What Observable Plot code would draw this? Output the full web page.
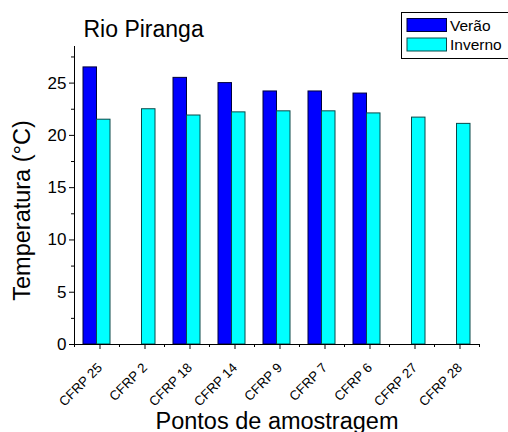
<!DOCTYPE html>
<html>
<head>
<meta charset="utf-8">
<script src="https://cdn.jsdelivr.net/npm/d3@7"></script>
<script src="https://cdn.jsdelivr.net/npm/@observablehq/plot@0.6"></script>
<style>
  html, body { margin: 0; background: #fff; overflow: hidden; }
  #chart { width: 508px; height: 432px; }
</style>
</head>
<body>
<div id="chart"></div>
<script>
// Temperatura da água por ponto de amostragem, Rio Piranga
const pontos = ["CFRP 25", "CFRP 2", "CFRP 18", "CFRP 14", "CFRP 9", "CFRP 7", "CFRP 6", "CFRP 27", "CFRP 28"];
const verao = [26.5, null, 25.5, 25.0, 24.2, 24.2, 24.0, null, null];
const inverno = [21.5, 22.5, 21.9, 22.2, 22.3, 22.3, 22.1, 21.7, 21.1];
const series = ["Verão", "Inverno"];
const cores = ["#0000ff", "#00ffff"];
const bordas = ["#00003c", "#0b4848"];
const yMajor = [0, 5, 10, 15, 20, 25];
const yMinor = [2.5, 7.5, 12.5, 17.5, 22.5, 27.5];
const yMax = 28.5;
const titulo = "Rio Piranga";
const tituloX = "Pontos de amostragem";
const tituloY = "Temperatura (°C)";

const W = 508, H = 432;
const mL = 74, mR = 29, mT = 46, mB = 88;
const step = (W - mL - mR) / pontos.length;   // largura de cada categoria
const barW = 13.5;
const inset = (step - barW) / 2;

const toRows = (vals) => pontos.map((p, i) => ({ponto: p, valor: vals[i]})).filter(d => d.valor != null);
const dadosVerao = toRows(verao);
const dadosInverno = toRows(inverno);

const font = "'Liberation Sans', Arial, sans-serif";

const plot = Plot.plot({
  width: W,
  height: H,
  marginLeft: mL,
  marginRight: mR,
  marginTop: mT,
  marginBottom: mB,
  style: {fontFamily: font, color: "#000", background: "#fff"},
  x: {type: "band", domain: pontos, padding: 0},
  y: {domain: [0, yMax]},
  marks: [
    Plot.barY(dadosVerao, {
      x: "ponto", y: "valor", fill: cores[0], stroke: bordas[0], strokeWidth: 1,
      insetLeft: inset, insetRight: inset, dx: -barW / 2
    }),
    Plot.barY(dadosInverno, {
      x: "ponto", y: "valor", fill: cores[1], stroke: bordas[1], strokeWidth: 1,
      insetLeft: inset, insetRight: inset, dx: barW / 2
    }),
    // eixos
    Plot.ruleY([0], {stroke: "#000", strokeWidth: 1}),
    Plot.ruleX([pontos[0]], {y1: 0, y2: yMax, dx: -step / 2, stroke: "#000", strokeWidth: 1}),
    Plot.axisY({ticks: yMajor, tickSize: 5, tickPadding: 3, fontSize: 17, label: null}),
    Plot.axisY({ticks: yMinor, tickSize: 3, text: null, label: null}),
    Plot.axisX({tickSize: 5, tickRotate: -45, fontSize: 13.3, tickPadding: 16, dx: 3, label: null}),
    Plot.axisX({ticks: pontos, tickSize: 3, text: null, label: null, dx: -step / 2}),
    Plot.axisX({ticks: [pontos[pontos.length - 1]], tickSize: 3, text: null, label: null, dx: step / 2}),
    // títulos
    Plot.text([titulo], {frameAnchor: "top-left", textAnchor: "start", lineAnchor: "bottom", dx: 9, dy: -10, fontSize: 23}),
    Plot.text([tituloX], {frameAnchor: "bottom", textAnchor: "middle", lineAnchor: "bottom", dy: 84, fontSize: 23.5}),
    Plot.text([tituloY], {frameAnchor: "left", textAnchor: "middle", rotate: -90, lineAnchor: "middle", dx: -52, dy: 15, fontSize: 23.5})
  ]
});

// legenda
const svg = d3.select(plot);
const leg = svg.append("g").attr("font-family", font).attr("text-anchor", "start");
leg.append("rect")
  .attr("x", 401.5).attr("y", 12.5).attr("width", 112).attr("height", 46)
  .attr("fill", "#fff").attr("stroke", "#000").attr("stroke-width", 1);
series.forEach((s, i) => {
  const y0 = 18.5 + i * 19.5;
  leg.append("rect")
    .attr("x", 407).attr("y", y0).attr("width", 39.5).attr("height", 13)
    .attr("fill", cores[i]).attr("stroke", bordas[i]).attr("stroke-width", 1);
  leg.append("text")
    .attr("x", 450).attr("y", y0 + 12)
    .attr("font-size", 15.5).attr("fill", "#000")
    .text(s);
});

document.getElementById("chart").appendChild(plot);
</script>
</body>
</html>
